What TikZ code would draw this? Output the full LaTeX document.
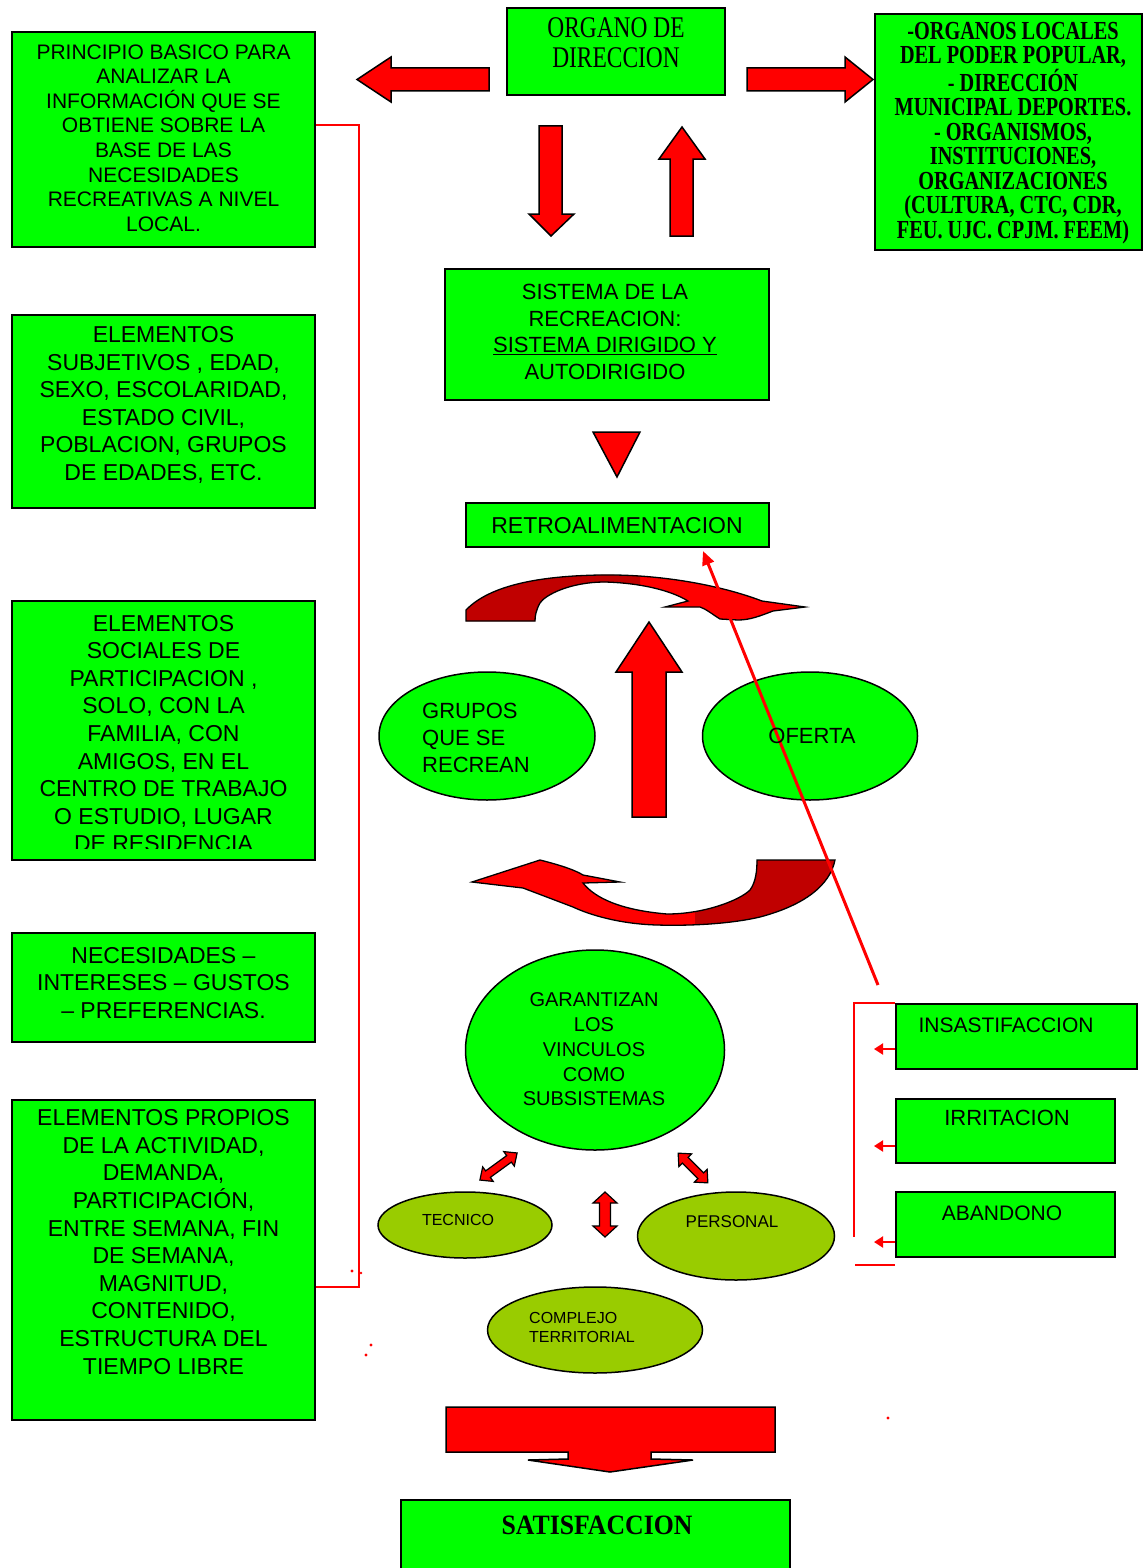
\documentclass[tikz,border=0pt]{standalone}
\usepackage{fontspec}
\setmainfont{Liberation Sans}
\newfontfamily\sfont{Liberation Sans}
\newfontfamily\serifc{Liberation Serif}[FakeStretch=0.78]
\newfontfamily\serifw{Liberation Serif}[FakeStretch=0.92]
\usetikzlibrary{shapes.geometric,arrows.meta,calc}
\definecolor{gr}{HTML}{00FF00}
\definecolor{rd}{HTML}{FF0000}
\definecolor{drd}{HTML}{C00000}
\definecolor{olv}{HTML}{99CC00}
\newcommand{\mydblarrow}[6]{\draw[arr, line width=1.2pt, shift={(#1)}, rotate=#2] (-#3,0) -- (-#3+#6,#5) -- (-#3+#6,#4) -- (#3-#6,#4) -- (#3-#6,#5) -- (#3,0) -- (#3-#6,-#5) -- (#3-#6,-#4) -- (-#3+#6,-#4) -- (-#3+#6,-#5) -- cycle;}
\newcommand{\toparrow}[1]{\path[#1] (466,621) -- (466,610) .. controls (490,585) and (540,576) .. (600,575) .. controls (660,574) and (720,585) .. (762,601) -- (805,607) -- (773,611) .. controls (760,616) and (750,620) .. (738,620) -- (720,619) .. controls (712,614) and (706,609) .. (700,607) -- (665,607) -- (688,601) .. controls (670,590) and (640,583) .. (605,582) .. controls (570,582) and (545,595) .. (540,603) .. controls (536,610) and (535,616) .. (535,621) -- cycle;}
\newcommand{\botarrow}[1]{\path[#1] (472,882) -- (540,860) .. controls (560,865) and (575,870) .. (583,875) -- (620,882) -- (583,883) .. controls (595,898) and (620,910) .. (667,914) .. controls (705,914) and (740,900) .. (750,890) .. controls (756,882) and (757,870) .. (757,860) -- (835,860) .. controls (830,885) and (805,905) .. (760,917) .. controls (730,924) and (690,926) .. (657,925) .. controls (620,924) and (590,915) .. (573,907) -- (523,888) -- cycle;}
\begin{document}
\begin{tikzpicture}[x=1pt,y=-1pt,
  gbox/.style={rectangle, draw=black, fill=gr, line width=2pt, inner sep=0pt},
  gell/.style={ellipse, draw=black, fill=gr, line width=1.5pt, inner sep=0pt},
  oell/.style={ellipse, draw=black, fill=olv, line width=1.5pt, inner sep=0pt},
  arr/.style={fill=rd, draw=black, line width=1.5pt, line join=miter},
  rline/.style={draw=rd, line width=2pt},
  tA/.style={font=\sfont\fontsize{21}{24.6}\selectfont, align=center, inner sep=0pt},
  tB/.style={font=\sfont\fontsize{23}{27.6}\selectfont, align=center, inner sep=0pt},
  tS/.style={font=\sfont\fontsize{22}{26.7}\selectfont, align=center, inner sep=0pt},
  tG/.style={font=\sfont\fontsize{20}{24.7}\selectfont, align=center, inner sep=0pt},
  tO/.style={font=\sfont\fontsize{16}{19}\selectfont, align=left, inner sep=0pt},
  serA/.style={font=\serifc\fontsize{30}{30}\selectfont, align=center, inner sep=0pt},
  serB/.style={font=\serifc\bfseries\fontsize{26}{24.5}\selectfont, align=center, inner sep=0pt},
  serC/.style={font=\serifw\bfseries\fontsize{28}{30}\selectfont, align=center, inner sep=0pt}]
\useasboundingbox (0,0) rectangle (1144,1568);
\fill[white] (0,0) rectangle (1144,1568);

% ---------- boxes ----------
\node[gbox, minimum width=218pt, minimum height=87pt] (org) at (616,51.5) {};
\node[serA] (orgt) at (616,43) {ORGANO DE\\DIRECCION};

\node[gbox, minimum width=267pt, minimum height=236pt] (loc) at (1008.5,132) {};
\node[serB] (loct) at (1013,133) {-ORGANOS LOCALES\\DEL PODER POPULAR,\\- DIRECCIÓN\\MUNICIPAL DEPORTES.\\- ORGANISMOS,\\INSTITUCIONES,\\ORGANIZACIONES\\(CULTURA, CTC, CDR,\\FEU. UJC. CPJM. FEEM)};

\node[gbox, minimum width=303pt, minimum height=215pt] (p1) at (163.5,139.5) {};
\node[tA] (p1t) at (163.5,138) {PRINCIPIO BASICO PARA\\ANALIZAR LA\\INFORMACIÓN QUE SE\\OBTIENE SOBRE LA\\BASE DE LAS\\NECESIDADES\\RECREATIVAS A NIVEL\\LOCAL.};

\node[gbox, minimum width=303pt, minimum height=193pt] (p2) at (163.5,411.5) {};
\node[tB] (p2t) at (163.5,405) {ELEMENTOS\\SUBJETIVOS , EDAD,\\SEXO, ESCOLARIDAD,\\ESTADO CIVIL,\\POBLACION, GRUPOS\\DE EDADES, ETC.};

\node[gbox, minimum width=303pt, minimum height=259pt] (p3) at (163.5,730.5) {};
\begin{scope}
\clip (14,603) rectangle (313,848);
\node[tB] (p3t) at (163.5,733.5) {ELEMENTOS\\SOCIALES DE\\PARTICIPACION ,\\SOLO, CON LA\\FAMILIA, CON\\AMIGOS, EN EL\\CENTRO DE TRABAJO\\O ESTUDIO, LUGAR\\DE RESIDENCIA};
\end{scope}

\node[gbox, minimum width=303pt, minimum height=109pt] (p4) at (163.5,987.5) {};
\node[tB] (p4t) at (163.5,983) {NECESIDADES –\\INTERESES – GUSTOS\\– PREFERENCIAS.};

\node[gbox, minimum width=303pt, minimum height=320pt] (p5) at (163.5,1260) {};
\node[tB] (p5t) at (163.5,1242) {ELEMENTOS PROPIOS\\DE LA ACTIVIDAD,\\DEMANDA,\\PARTICIPACIÓN,\\ENTRE SEMANA, FIN\\DE SEMANA,\\MAGNITUD,\\CONTENIDO,\\ESTRUCTURA DEL\\TIEMPO LIBRE};

\node[gbox, minimum width=324pt, minimum height=131pt] (sis) at (607,334.5) {};
\node[tS] (sist) at (605,332) {SISTEMA DE LA\\RECREACION:\\\underline{SISTEMA DIRIGIDO Y}\\AUTODIRIGIDO};

\node[gbox, minimum width=303pt, minimum height=44pt] (retro) at (617.5,525) {};
\node[tB] (retrot) at (617,526) {RETROALIMENTACION};

\node[gbox, minimum width=241pt, minimum height=65pt] (insat) at (1016.5,1036.5) {};
\node[tA] (insatt) at (1006,1025) {INSASTIFACCION};
\node[gbox, minimum width=219pt, minimum height=64pt] (irrit) at (1005.5,1131) {};
\node[tS] (irritt) at (1007,1118) {IRRITACION};
\node[gbox, minimum width=219pt, minimum height=65pt] (aband) at (1005.5,1224.5) {};
\node[tA] (abandt) at (1002,1213) {ABANDONO};

\node[gbox, minimum width=389pt, minimum height=80pt] (satis) at (595.5,1540) {};
\node[serC] (satist) at (597,1525) {SATISFACCION};

% ---------- ellipses ----------
\node[gell, minimum width=216pt, minimum height=128pt] (grupos) at (487,736) {};
\node[tS, align=left, anchor=west] (grupost) at (422,738) {GRUPOS\\QUE SE\\RECREAN};
\node[gell, minimum width=215pt, minimum height=128pt] (oferta) at (810,736) {};
\node[gell, minimum width=259pt, minimum height=200pt] (garant) at (595,1050) {};
\node[tG] (garantt) at (594,1049.5) {GARANTIZAN\\LOS\\VINCULOS\\COMO\\SUBSISTEMAS};
\node[oell, minimum width=174pt, minimum height=66pt] (tecnico) at (465,1225) {};
\node[font=\sfont\fontsize{16}{19}\selectfont, inner sep=0pt] (tecnicot) at (458,1220) {TECNICO};
\node[oell, minimum width=197pt, minimum height=88pt] (personal) at (736,1236) {};
\node[font=\sfont\fontsize{17}{19}\selectfont, inner sep=0pt] (personalt) at (732,1222) {PERSONAL};
\node[oell, minimum width=215pt, minimum height=86pt] (complejo) at (595,1330) {};
\node[tO, anchor=west] (complejot) at (529,1327.5) {COMPLEJO\\TERRITORIAL};

% ---------- block arrows ----------
\draw[arr] (489,68) -- (391,68) -- (391,57) -- (357,79.5) -- (391,102) -- (391,91) -- (489,91) -- cycle;
\draw[arr] (747,68) -- (845,68) -- (845,57) -- (873,79.5) -- (845,102) -- (845,91) -- (747,91) -- cycle;
\draw[arr] (539,126) -- (562,126) -- (562,214) -- (574,214) -- (551,236) -- (529,214) -- (539,214) -- cycle;
\draw[arr] (670,236) -- (693,236) -- (693,159) -- (705,159) -- (682,127) -- (659,159) -- (670,159) -- cycle;
\draw[arr] (593,432) -- (640,432) -- (617,477) -- cycle;
\draw[arr] (632,817) -- (666,817) -- (666,672) -- (682,672) -- (649,622) -- (616,672) -- (632,672) -- cycle;
\draw[arr] (446,1407) -- (775,1407) -- (775,1452) -- (651,1452) -- (651,1459) -- (693,1460) -- (610,1472) -- (528,1460) -- (568,1459) -- (568,1452) -- (446,1452) -- cycle;

% curved arrows
\toparrow{fill=rd}
\begin{scope}
\clip (400,540) rectangle (640,640);
\toparrow{fill=drd}
\end{scope}
\toparrow{draw=black, line width=1.3pt, line join=miter}

\botarrow{fill=rd}
\begin{scope}
\clip (695,840) rectangle (850,940);
\botarrow{fill=drd}
\end{scope}
\botarrow{draw=black, line width=1.3pt, line join=miter}

% small double arrows
\mydblarrow{498.5,1166.5}{36}{23}{4}{9}{10}
\mydblarrow{693,1168}{-45}{21}{4}{9}{10}
\mydblarrow{605,1214.5}{90}{22.5}{5.5}{12}{11}

% ---------- red connectors ----------
\draw[rline] ([yshift=14.5pt]p1.east) -- ++(43,0) coordinate (bk1) |- ([yshift=-27pt]p5.east);
\draw[rline] (insat.north west) -- ++(-41,0) coordinate (bk2) -- ++(0,234);
\coordinate (bk3) at (855,1265);
\draw[rline] (bk3) -- ++(40,0);
\draw[rd, line width=2pt, -{Triangle[length=9pt,width=11pt]}] ([yshift=-12.5pt]insat.west) -- ++(-21,0);
\draw[rd, line width=2pt, -{Triangle[length=9pt,width=11pt]}] ([yshift=-15pt]irrit.west) -- ++(-21,0);
\draw[rd, line width=2pt, -{Triangle[length=9pt,width=11pt]}] ([yshift=-17.5pt]aband.west) -- ++(-21,0);

\coordinate (lstart) at (878,985);
\coordinate (lend) at (703,551);
\draw[rd, line width=3pt, -{Triangle[length=14pt,width=12pt]}] (lstart) -- (lend);

% stray dots
\fill[rd] (352,1271) circle (1.6);
\fill[rd] (361,1273) circle (1.4);
\fill[rd] (371,1345) circle (1.6);
\fill[rd] (366,1355) circle (1.6);
\fill[rd] (888,1418) circle (1.6);

% OFERTA text on top of the line
\node[tS] (ofertat) at (812,736) {OFERTA};
\end{tikzpicture}
\end{document}
